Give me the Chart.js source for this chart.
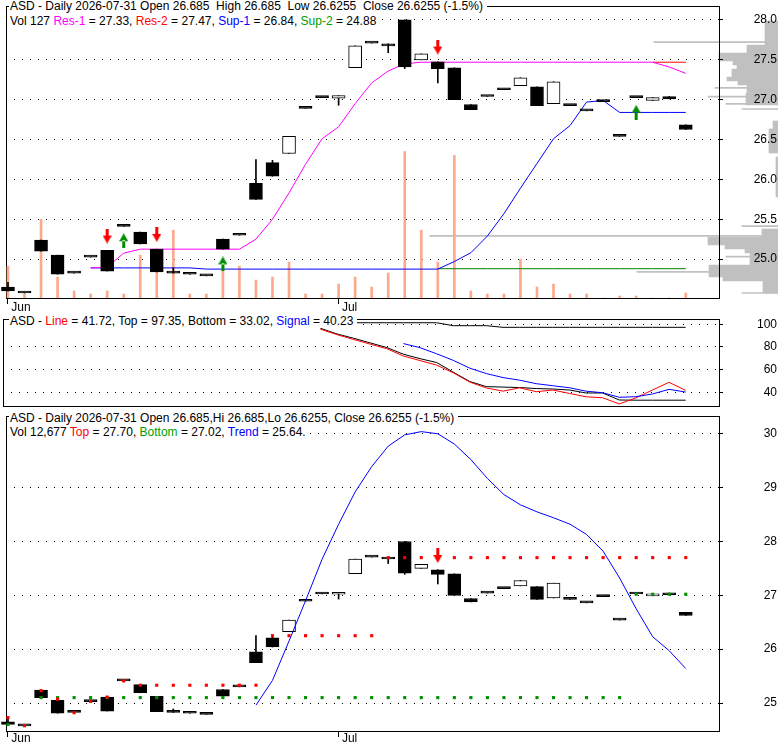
<!DOCTYPE html>
<html>
<head>
<meta charset="utf-8">
<title>ASD daily</title>
<script src="https://cdn.jsdelivr.net/npm/chart.js@4.4.1/dist/chart.umd.min.js"></script>
<style>
  html, body { margin: 0; padding: 0; background: #fff; }
  #wrap { position: relative; width: 780px; height: 745px; overflow: hidden; font-family: "Liberation Sans", Arial, sans-serif; font-size: 12px; color: #000; }
  #wrap canvas { position: absolute; left: 0; }
  .hd { position: absolute; left: 9px; padding: 0 4px 0 1px; line-height: 14px; background: #fff; white-space: pre; }
  .m { color: #ff00ff; } .r { color: #ff0000; } .b { color: #0000ff; } .g { color: #00a000; }
</style>
</head>
<body>
<div id="wrap">
  <canvas id="profile" width="778" height="293" style="top:5px"></canvas>
  <canvas id="price" width="780" height="318" style="top:0"></canvas>
  <canvas id="osc" width="780" height="100" style="top:310px"></canvas>
  <canvas id="trend" width="780" height="335" style="top:410px"></canvas>
  <div class="hd" style="top:-1px">ASD - Daily 2026-07-31 Open 26.685  High 26.685  Low 26.6255  Close 26.6255 (-1.5%)</div>
  <div class="hd" style="top:14px">Vol 127 <span class="m">Res-1</span> = 27.33, <span class="r">Res-2</span> = 27.47, <span class="b">Sup-1</span> = 26.84, <span class="g">Sup-2</span> = 24.88</div>
  <div class="hd" style="top:314px">ASD - <span class="r">Line</span> = 41.72, Top = 97.35, Bottom = 33.02, <span class="b">Signal</span> = 40.23</div>
  <div class="hd" style="top:411px">ASD - Daily 2026-07-31 Open 26.685,Hi 26.685,Lo 26.6255, Close 26.6255 (-1.5%)</div>
  <div class="hd" style="top:425px">Vol 12,677 <span class="r">Top</span> = 27.70, <span class="g">Bottom</span> = 27.02, <span class="b">Trend</span> = 25.64.</div>
</div>
<script>
// daily bars, June - July 2026
const dates = [
  '2026-06-01', '2026-06-02', '2026-06-03', '2026-06-04', '2026-06-05', '2026-06-08', '2026-06-09', '2026-06-10', '2026-06-11', '2026-06-12',
  '2026-06-15', '2026-06-16', '2026-06-17', '2026-06-18', '2026-06-22', '2026-06-23', '2026-06-24', '2026-06-25', '2026-06-26', '2026-06-29',
  '2026-07-01', '2026-07-02', '2026-07-06', '2026-07-07', '2026-07-08', '2026-07-09', '2026-07-10', '2026-07-13', '2026-07-14', '2026-07-15',
  '2026-07-16', '2026-07-17', '2026-07-20', '2026-07-21', '2026-07-22', '2026-07-23', '2026-07-24', '2026-07-27', '2026-07-28', '2026-07-29',
  '2026-07-30', '2026-07-31'
];
const open = [
  24.65, 24.575, 25.24, 25.05, 24.825, 25.025, 25.11, 25.41, 25.34, 25.125,
  24.825, 24.81, 24.79, 25.25, 25.30, 25.95, 26.21, 26.325, 26.89, 27.025,
  27.02, 27.40, 27.71, 27.70, 28.00, 27.50, 27.475, 27.40, 26.94, 27.04,
  27.125, 27.175, 27.16, 26.95, 26.925, 26.86, 26.975, 26.54, 27.025, 26.99,
  27.04, 26.685
];
const high = [
  24.71, 24.575, 25.24, 25.05, 24.825, 25.025, 25.11, 25.41, 25.34, 25.125,
  24.89, 24.81, 24.79, 25.25, 25.30, 26.25, 26.24, 26.54, 26.89, 27.025,
  27.05, 27.675, 27.71, 27.70, 28.00, 27.575, 27.475, 27.40, 26.94, 27.04,
  27.125, 27.275, 27.16, 27.225, 26.925, 26.86, 26.975, 26.54, 27.025, 27.025,
  27.04, 26.685
];
const low = [
  24.60, 24.575, 25.10, 24.81, 24.825, 25.025, 24.85, 25.41, 25.19, 24.84,
  24.825, 24.81, 24.79, 25.125, 25.30, 25.75, 26.04, 26.325, 26.89, 27.025,
  26.93, 27.40, 27.71, 27.59, 27.39, 27.50, 27.21, 27.00, 26.875, 27.04,
  27.125, 27.175, 26.925, 26.95, 26.925, 26.86, 26.975, 26.54, 27.025, 26.99,
  27.01, 26.6255
];
const close = [
  24.60, 24.575, 25.10, 24.81, 24.825, 25.025, 24.85, 25.41, 25.19, 24.84,
  24.825, 24.81, 24.79, 25.125, 25.30, 25.75, 26.04, 26.54, 26.89, 27.025,
  27.05, 27.675, 27.71, 27.675, 27.41, 27.575, 27.39, 27.00, 26.875, 27.04,
  27.125, 27.275, 26.925, 27.225, 26.925, 26.86, 26.975, 26.54, 27.025, 27.025,
  27.01, 26.6255
];
const volume = [
  800, 100, 1975, 525, 175, 100, 175, 100, 1075, 650,
  1700, 100, 100, 700, 800, 450, 525, 900, 100, 100,
  350, 525, 275, 625, 3675, 1700, 900, 3575, 175, 100,
  100, 975, 275, 350, 100, 100, 0, 50, 50, 0,
  0, 127
];
const N = null;
const res1 = [
  N, N, N, N, N, 24.89, 24.90, 25.075, 25.125, 25.125,
  25.125, 25.125, 25.125, 25.125, 25.125, 25.25, 25.50, 25.83, 26.19, 26.51,
  26.66, 26.95, 27.21, 27.36, 27.45, 27.47, 27.47, 27.47, 27.47, 27.47,
  27.47, 27.47, 27.47, 27.47, 27.47, 27.47, 27.47, 27.47, 27.47, 27.47,
  27.41, 27.33
];
const res2 = [
  N, N, N, N, N, N, N, N, N, N,
  N, N, N, N, N, N, N, N, N, N,
  N, N, N, N, N, N, N, N, N, N,
  N, N, N, N, N, N, N, N, N, 27.47,
  27.47, 27.47
];
const sup1 = [
  N, N, N, N, N, 24.89, 24.89, 24.89, 24.89, 24.89,
  24.89, 24.89, 24.875, 24.875, 24.875, 24.875, 24.875, 24.875, 24.875, 24.875,
  24.875, 24.875, 24.875, 24.875, 24.875, 24.875, 24.875, 24.97, 25.08, 25.29,
  25.57, 25.89, 26.20, 26.51, 26.675, 26.97, 26.99, 26.84, 26.84, 26.84,
  26.84, 26.84
];
const sup2 = [
  N, N, N, N, N, N, N, N, N, N,
  N, N, N, N, N, N, N, N, N, N,
  N, N, N, N, N, N, 24.88, 24.88, 24.88, 24.88,
  24.88, 24.88, 24.88, 24.88, 24.88, 24.88, 24.88, 24.88, 24.88, 24.88,
  24.88, 24.88
];
// signal arrows (bar index, price)
const sellIdx = [6, 9, 26];
const sellAt = [25.29, 25.31, 27.66];
const buyIdx = [7, 13, 38];
const buyAt = [25.23, 24.94, 26.84];
const sellIdx2 = [26];
const sellAt2 = [27.74];

// volume at price, right side of the top panel
const profPrice = [
  27.95, 27.90, 27.85, 27.80, 27.75, 27.70, 27.65, 27.60, 27.55, 27.50,
  27.45, 27.40, 27.35, 27.30, 27.25, 27.20, 27.15, 27.10, 27.05, 27.00,
  26.95, 26.70, 26.65, 26.60, 26.55, 26.50, 26.45, 26.40, 26.35, 26.25,
  26.20, 26.15, 26.10, 26.05, 26.00, 25.95, 25.90, 25.85, 25.80, 25.35,
  25.30, 25.25, 25.20, 25.15, 25.10, 25.05, 25.00, 24.95, 24.90, 24.85,
  24.80, 24.75, 24.70, 24.65, 24.60
];
const profVol = [
  13, 13, 13, 13, 13, 13, 31, 31, 59, 59,
  45, 41, 46, 46, 51, 40, 31, 31, 32, 32,
  32, 5, 5, 9, 9, 9, 9, 9, 9, 2,
  2, 2, 2, 2, 2, 2, 2, 2, 2, 16,
  16, 70, 70, 53, 33, 28, 28, 28, 69, 69,
  69, 55, 15, 15, 15
];
const thinPrice = [27.71, 27.14, 27.03, 26.94, 26.875, 25.41, 25.29, 25.03, 24.84, 24.575];
const thinVol = [124, 63, 70, 52, 36, 36, 348, 52, 141, 36];

// oscillator panel
const oscLine = [
  N, N, N, N, N, N, N, N, N, N,
  N, N, N, N, N, N, N, N, N, 95.7,
  90.9, 86.6, 82.5, 78.5, 72.0, 68.0, 64.0, 57.2, 49.0, 43.8,
  41.0, 44.0, 40.5, 42.0, 39.0, 36.0, 35.2, 29.7, 35.0, 42.0,
  48.8, 41.72
];
const oscTop = [
  N, N, N, N, N, N, N, N, N, N,
  N, N, N, N, N, N, N, N, N, 101.4,
  101.4, 101.4, 101.4, 101.4, 101.4, 101.4, 101.4, 98.8, 98.8, 98.8,
  97.35, 97.35, 97.35, 97.35, 97.35, 97.35, 97.35, 97.35, 97.35, 97.35,
  97.35, 97.35
];
const oscBottom = [
  N, N, N, N, N, N, N, N, N, N,
  N, N, N, N, N, N, N, N, N, 96.5,
  91.5, 87.7, 83.6, 79.5, 73.6, 69.7, 66.3, 57.8, 49.5, 45.0,
  44.6, 44.2, 43.3, 42.9, 42.0, 39.4, 39.4, 33.2, 33.02, 33.02,
  33.02, 33.02
];
const oscSignal = [
  N, N, N, N, N, N, N, N, N, N,
  N, N, N, N, N, N, N, N, N, N,
  N, N, N, N, 83.0, 79.4, 74.0, 68.2, 61.3, 56.5,
  53.0, 50.7, 47.6, 45.8, 44.0, 41.0, 39.6, 35.6, 36.1, 38.5,
  42.6, 40.23
];

// trend panel
const trendLine = [
  N, N, N, N, N, N, N, N, N, N,
  N, N, N, N, N, 24.96, 25.42, 26.15, 26.90, 27.67,
  28.32, 28.92, 29.39, 29.77, 29.98, 30.04, 30.00, 29.81, 29.52, 29.17,
  28.87, 28.68, 28.55, 28.44, 28.32, 28.13, 27.82, 27.32, 26.75, 26.23,
  25.97, 25.64
];
const topDots = [
  24.73, 24.58, 25.23, 25.07, 24.82, 25.03, 25.11, 25.41, 25.33, 25.33,
  25.33, 25.33, 25.33, 25.33, 25.33, 25.33, 26.25, 26.25, 26.25, 26.25,
  26.25, 26.25, 26.25, 27.70, 27.70, 27.70, 27.70, 27.70, 27.70, 27.70,
  27.70, 27.70, 27.70, 27.70, 27.70, 27.70, 27.70, 27.70, 27.70, 27.70,
  27.70, 27.70
];
const bottomDots = [
  24.60, 24.58, 25.10, 25.10, 25.10, 25.10, 25.10, 25.10, 25.10, 25.10,
  25.10, 25.10, 25.10, 25.10, 25.10, 25.10, 25.10, 25.10, 25.10, 25.10,
  25.10, 25.10, 25.10, 25.10, 25.10, 25.10, 25.10, 25.10, 25.10, 25.10,
  25.10, 25.10, 25.10, 25.10, 25.10, 25.10, 25.10, 25.10, 27.02, 27.02,
  27.02, 27.02
];

// axis ticks
const priceTicks = [25.0, 25.5, 26.0, 26.5, 27.0, 27.5, 28.0];
const oscTicks = [40, 60, 80, 100];
const trendTicks = [25, 26, 27, 28, 29, 30];
const MONTHS = ['Jan', 'Feb', 'Mar', 'Apr', 'May', 'Jun', 'Jul', 'Aug', 'Sep', 'Oct', 'Nov', 'Dec'];

Chart.defaults.font.family = '"Liberation Sans", Arial, sans-serif';
Chart.defaults.font.size = 12;
Chart.defaults.color = '#000';

const X_MIN = -0.12, X_MAX = 43.01;
const idx = dates.map((d, i) => i);
const series = vals => vals.map((v, i) => ({ x: i, y: v }));
const points = (is, vs) => is.map((x, k) => ({ x: x, y: vs[k] }));
const monthStarts = idx.filter(i => i === 0 || dates[i].slice(5, 7) !== dates[i - 1].slice(5, 7));
const monthName = i => MONTHS[+dates[i].slice(5, 7) - 1];

function arrowImg(color, down) {
  const c = document.createElement('canvas');
  c.width = 9; c.height = 15;
  const g = c.getContext('2d');
  g.fillStyle = color;
  g.beginPath();
  if (down) {
    g.rect(3, 0, 3, 8);
    g.moveTo(0, 7); g.lineTo(9, 7); g.lineTo(4.5, 15);
  } else {
    g.rect(3, 7, 3, 8);
    g.moveTo(0, 8); g.lineTo(9, 8); g.lineTo(4.5, 0);
  }
  g.fill();
  return c;
}
const downArrow = arrowImg('#ff0000', true);
const upArrow = arrowImg('#008c00', false);

const framePlugin = {
  id: 'frame',
  beforeDatasetsDraw(chart) {
    const a = chart.chartArea, g = chart.ctx;
    g.save();
    g.strokeStyle = '#000';
    g.lineWidth = 1;
    g.strokeRect(a.left + 0.5, a.top + 0.5, a.right - a.left, a.bottom - a.top);
    g.restore();
  }
};

function candles(order) {
  return [
    {
      type: 'bar', data: idx.map(i => ({ x: i, y: [low[i], high[i]] })),
      backgroundColor: '#000', barThickness: 1, grouped: false, order: order + 1, clip: false
    },
    {
      type: 'bar', data: idx.map(i => ({ x: i, y: [open[i], close[i]] })),
      backgroundColor: idx.map(i => close[i] > open[i] ? '#fff' : '#000'),
      borderColor: '#000', borderWidth: 1, borderSkipped: false,
      barThickness: 13, minBarLength: 2, grouped: false, order: order, clip: false
    }
  ];
}

function line(vals, color, order) {
  return { type: 'line', data: series(vals), borderColor: color, borderWidth: 1, pointRadius: 0, tension: 0, spanGaps: false, order: order };
}

function marks(data, style, order) {
  return { type: 'line', data: data, showLine: false, pointStyle: style, pointRadius: 5, order: order, clip: false };
}

function dots(vals, color, order) {
  return { type: 'line', data: series(vals), showLine: false, pointStyle: 'rect', pointRadius: 2.2, pointBorderWidth: 0, pointBackgroundColor: color, order: order };
}

function xAxis(show, height, pad) {
  return {
    type: 'linear', min: X_MIN, max: X_MAX, offset: false, display: show,
    afterBuildTicks: s => { s.ticks = monthStarts.map(v => ({ value: v })); },
    afterFit: s => { s.height = height; s.paddingLeft = 0; s.paddingRight = 0; },
    border: { display: false },
    grid: { offset: false, drawOnChartArea: false, tickLength: 6, color: '#000' },
    ticks: { autoSkip: false, maxRotation: 0, align: 'start', padding: pad, callback: v => ' ' + monthName(v) }
  };
}

function yAxis(min, max, ticks, dec, pad) {
  return {
    type: 'linear', position: 'right', min: min, max: max,
    afterBuildTicks: s => { s.ticks = ticks.map(v => ({ value: v })); },
    afterFit: s => { s.width = 58; s.paddingTop = 0; s.paddingBottom = 0; },
    border: { display: false, dash: [1, 7] },
    grid: { color: '#000', tickLength: 4 },
    ticks: { crossAlign: 'far', padding: pad, callback: v => v.toFixed(dec) }
  };
}

const base = {
  animation: false, responsive: false, devicePixelRatio: 1, events: [],
  plugins: { legend: { display: false }, tooltip: { enabled: false } }
};

// volume by price (behind the price panel)
new Chart(document.getElementById('profile'), {
  type: 'bar',
  data: {
    datasets: [
      { data: points(profVol, profPrice), backgroundColor: '#c0c0c0', barThickness: 4, grouped: false },
      { data: points(thinVol, thinPrice), backgroundColor: '#c0c0c0', barThickness: 1, grouped: false }
    ]
  },
  options: Object.assign({}, base, {
    indexAxis: 'y',
    layout: { padding: 0 },
    scales: {
      x: { type: 'linear', reverse: true, min: 0, max: 778, display: false },
      y: { type: 'linear', min: 24.5125, max: 28.175, offset: false, display: false }
    }
  })
});

// price panel
new Chart(document.getElementById('price'), {
  type: 'bar',
  data: {
    datasets: [
      { type: 'bar', yAxisID: 'yv', data: series(volume), backgroundColor: '#fca98c', barThickness: 2, grouped: false, order: 10 },
      line(res1, '#ff00ff', 9),
      line(res2, '#ff0000', 9),
      line(sup1, '#0000ff', 9),
      line(sup2, '#008000', 9),
      ...candles(6),
      marks(points(sellIdx, sellAt), downArrow, 0),
      marks(points(buyIdx, buyAt), upArrow, 0)
    ]
  },
  options: Object.assign({}, base, {
    layout: { padding: { left: 3, top: 5, right: 3, bottom: 0 } },
    scales: {
      x: xAxis(true, 20, -4),
      y: yAxis(24.5125, 28.175, priceTicks, 1, 31),
      yv: { type: 'linear', display: false, min: 0, max: 7325 }
    }
  }),
  plugins: [framePlugin]
});

// oscillator panel
new Chart(document.getElementById('osc'), {
  type: 'line',
  data: {
    datasets: [
      line(oscTop, '#000', 3),
      line(oscBottom, '#000', 2),
      line(oscLine, '#ff0000', 1),
      line(oscSignal, '#0000ff', 0)
    ]
  },
  options: Object.assign({}, base, {
    layout: { padding: { left: 3, top: 9, right: 3, bottom: 4 } },
    scales: {
      x: xAxis(false, 0, 0),
      y: yAxis(27.9, 104.7, oscTicks, 0, 32)
    }
  }),
  plugins: [framePlugin]
});

// trend panel
new Chart(document.getElementById('trend'), {
  type: 'bar',
  data: {
    datasets: [
      ...candles(6),
      dots(topDots, '#ff0000', 2),
      dots(bottomDots, '#009000', 2),
      line(trendLine, '#0000ff', 1),
      marks(points(sellIdx2, sellAt2), downArrow, 0)
    ]
  },
  options: Object.assign({}, base, {
    layout: { padding: { left: 3, top: 6, right: 3, bottom: 0 } },
    scales: {
      x: xAxis(true, 14, -6),
      y: yAxis(24.48, 30.33, trendTicks, 0, 39)
    }
  }),
  plugins: [framePlugin]
});
</script>
</body>
</html>
